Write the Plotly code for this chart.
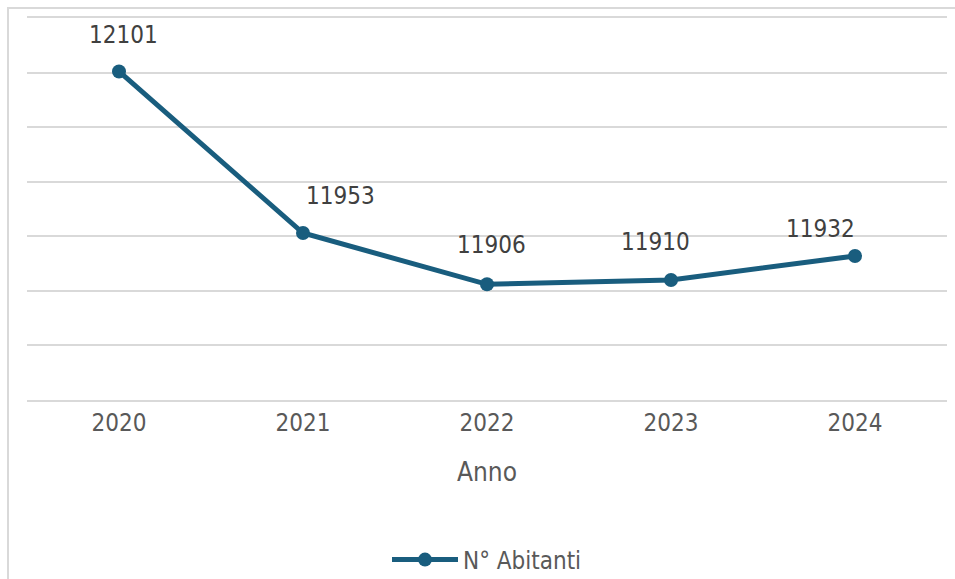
import plotly.graph_objects as go

years = ["2020", "2021", "2022", "2023", "2024"]
abitanti = [12101, 11953, 11906, 11910, 11932]
series_name = "N° Abitanti"
x_title = "Anno"

# label offsets (px) relative to each point: (xshift, yshift)
label_offsets = [(4, 36), (37, 37), (4, 39), (-16, 38), (-35, 27)]

LINE = "#195d7e"
GRID = "#d9d9d9"
FONT = "DejaVu Sans Condensed, DejaVu Sans"

fig = go.Figure()
fig.add_trace(go.Scatter(
    x=years, y=abitanti, name=series_name, mode="lines+markers",
    line=dict(color=LINE, width=5),
    marker=dict(color=LINE, size=14),
    cliponaxis=False,
))

for i, (yv, (dx, dy)) in enumerate(zip(abitanti, label_offsets)):
    fig.add_annotation(x=i, y=yv, text=str(yv), showarrow=False,
                       xshift=dx, yshift=dy,
                       font=dict(family=FONT, size=24, color="#404040"))

# outer chart border
fig.add_shape(type="rect", xref="paper", yref="paper",
              x0=(8 - 27) / 920, x1=1.2, y0=-1, y1=1 + (18 - 8) / 382,
              line=dict(color=GRID, width=2), fillcolor="rgba(0,0,0,0)",
              layer="below")

fig.update_layout(
    width=955, height=579,
    margin=dict(l=27, r=8, t=18, b=179),
    paper_bgcolor="white", plot_bgcolor="white",
    font=dict(family=FONT, color="#595959", size=24),
    showlegend=True,
    legend=dict(orientation="h", x=0.5, xanchor="center",
                yref="container", y=(579 - 560) / 579, yanchor="middle",
                itemwidth=66,
                font=dict(family=FONT, size=24, color="#595959")),
    xaxis=dict(type="category", range=[-0.5, len(years) - 0.5], automargin=False,
               showgrid=False, zeroline=False,
               showline=True, mirror=True, linecolor=GRID, linewidth=1.5,
               ticks="", ticklabelstandoff=0, tickfont=dict(size=24, color="#595959"),
               title=dict(text=x_title, font=dict(size=26, color="#595959"), standoff=27)),
    yaxis=dict(range=[11800, 12150], dtick=50, showticklabels=False, automargin=False,
               gridcolor=GRID, gridwidth=1.5, zeroline=False, showline=False),
)

fig.write_html("out.html", config={"displayModeBar": False},
               post_script="document.body.style.margin='0';")
